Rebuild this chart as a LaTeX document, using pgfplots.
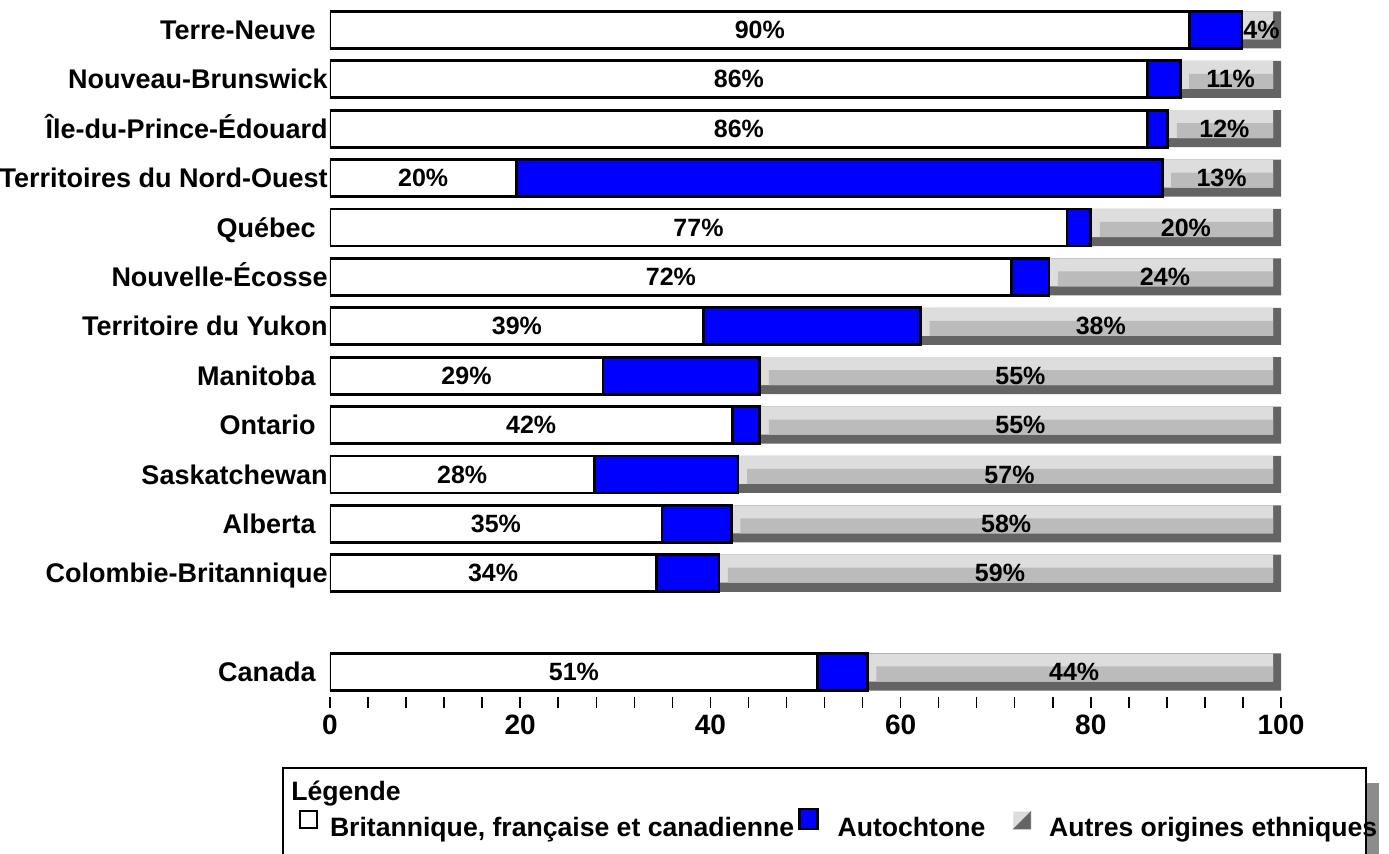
\documentclass[border=0pt]{standalone}
\usepackage{fontspec}
\setmainfont{Liberation Sans}
\usepackage{pgfplots}
\usepackage{pgfplotstable}
\pgfplotsset{compat=1.18}
\definecolor{gdark}{HTML}{646464}
\definecolor{glight}{HTML}{DDDDDD}
\definecolor{gmid}{HTML}{BBBBBB}
\definecolor{gshadow}{HTML}{8C8C8C}
\definecolor{pblue}{HTML}{0000FF}

\pgfplotstableread{
pos B A gap L T Lt
13 90.4 5.5 0.95 2.31 100 99.16
12 86.0 3.4 0.95 8.81 100 99.16
11 86.0 2.1 0.95 10.11 100 99.16
10 19.6 67.9 0.95 10.71 100 99.16
9 77.5 2.5 0.95 18.21 100 99.16
8 71.7 3.9 0.95 22.61 100 99.16
7 39.3 22.8 0.95 36.11 100 99.16
6 28.7 16.5 0.95 53.01 100 99.16
5 42.3 2.9 0.95 53.01 100 99.16
4 27.8 15.1 0.95 55.31 100 99.16
3 34.9 7.3 0.95 56.01 100 99.16
2 34.3 6.6 0.95 57.31 100 99.16
0 51.3 5.2 0.95 41.71 100 99.16
}\bars

\pgfplotstableread{
x y v
45.2 13 90
97.95 13 4
43 12 86
94.7 12 11
43 11 86
94.05 11 12
9.8 10 20
93.75 10 13
38.75 9 77
90 9 20
35.85 8 72
87.8 8 24
19.65 7 39
81.05 7 38
14.35 6 29
72.6 6 55
21.15 5 42
72.6 5 55
13.9 4 28
71.45 4 57
17.45 3 35
71.1 3 58
17.15 2 34
70.45 2 59
25.65 0 51
78.25 0 44
}\labels

\newcommand{\pad}{\rule{6pt}{0pt}}
\pgfplotsset{
  /pgf/number format/assume math mode=true,
  base/.style={scale only axis, width=475.5pt, height=343.4pt,
    xmin=0, xmax=100, ymin=-0.506, ymax=13.4,
    at={(165pt,78pt)}, anchor=south west}
}

\begin{document}
\begin{tikzpicture}
\useasboundingbox (0,0) rectangle (694.5pt,426.5pt);
% legend frame
\fill[gshadow] (683pt,-5pt) rectangle (689.5pt,35pt);
\draw[line width=1pt] (141.5pt,-5pt) -- (141.5pt,42.5pt) -- (683pt,42.5pt) -- (683pt,-5pt);
\node[anchor=west,inner sep=0pt,font=\bfseries\fontsize{13.3}{15}\selectfont] at (145.5pt,29.5pt) {Légende};

% background bevel layers, ticks and category labels
\begin{axis}[base,
  axis lines*=left, axis line style={draw=none},
  tick align=outside, major tick length=5.5pt, minor tick length=5.5pt,
  xtick={0,20,...,100}, minor x tick num=4,
  every tick/.style={black, line width=0.75pt},
  ytick={0,2,3,4,5,6,7,8,9,10,11,12,13},
  yticklabels={Canada\pad,Colombie-Britannique,Alberta\pad,Saskatchewan,Ontario\pad,Manitoba\pad,Territoire du Yukon,Nouvelle-Écosse,Québec\pad,Territoires du Nord-Ouest,Île-du-Prince-Édouard,Nouveau-Brunswick,Terre-Neuve\pad},
  ytick style={draw=none},
  yticklabel style={font=\bfseries\fontsize{13.5}{15}\selectfont, inner sep=0pt, xshift=4.5pt,
    anchor=east, text height=9.6pt, text depth=0pt},
  xticklabel style={font=\bfseries\fontsize{14}{16}\selectfont},
]
\addplot[xbar, bar width=0.75, fill=gdark, draw=none] table[x=T, y=pos] {\bars};
\addplot[xbar, bar width=0.567, bar shift=0.091, fill=glight, draw=none] table[x=Lt, y=pos] {\bars};
\end{axis}

% stacked foreground bars
\begin{axis}[base, hide axis, xbar stacked, bar width=0.75]
\addplot[fill=white, draw=black, line width=1.4pt] table[x=B, y=pos] {\bars};
\addplot[fill=pblue, draw=black, line width=1.4pt] table[x=A, y=pos] {\bars};
\addplot[fill=none, draw=none] table[x=gap, y=pos] {\bars};
\addplot[fill=gmid, draw=none, bar width=0.304, bar shift=-0.04] table[x=L, y=pos] {\bars};
\end{axis}

% value labels and legend
\begin{axis}[base, hide axis, clip=false,
  legend columns=3,
  legend style={at={(-0.0326,-0.184)}, anchor=west, draw=none, fill=none,
    inner sep=0pt, font=\bfseries\fontsize{13.3}{15}\selectfont,
    nodes={inner sep=0pt},
    /tikz/column 1/.style={column sep=6pt},
    /tikz/column 2/.style={column sep=2pt},
    /tikz/column 3/.style={column sep=9.5pt},
    /tikz/column 4/.style={column sep=14pt},
    /tikz/column 5/.style={column sep=9pt}},
]
\addplot[forget plot, only marks, mark=*, mark size=0pt, mark options={draw=none, fill=none},
  point meta=explicit,
  nodes near coords={\pgfmathprintnumber[fixed,precision=0]{\pgfplotspointmeta}\%},
  every node near coord/.append style={anchor=center, inner sep=0pt, text=black,
    font=\bfseries\fontsize{12.5}{14}\selectfont}]
  table[x=x, y=y, meta=v] {\labels};
\addlegendimage{legend image code/.code={\draw[black, line width=0.8pt, fill=white] (0pt,0pt) rectangle (8.5pt,8.5pt);}}
\addlegendentry{Britannique, française et canadienne}
\addlegendimage{legend image code/.code={\draw[black, line width=1.2pt, fill=pblue] (0pt,-0.5pt) rectangle (9pt,9.5pt);}}
\addlegendentry{Autochtone}
\addlegendimage{legend image code/.code={\fill[glight] (0pt,-0.5pt) -- (8.5pt,8pt) -- (0pt,8pt) -- cycle; \fill[gdark] (0pt,-0.5pt) -- (8.5pt,-0.5pt) -- (8.5pt,8pt) -- cycle;}}
\addlegendentry{Autres origines ethniques}
\end{axis}
\end{tikzpicture}
\end{document}
